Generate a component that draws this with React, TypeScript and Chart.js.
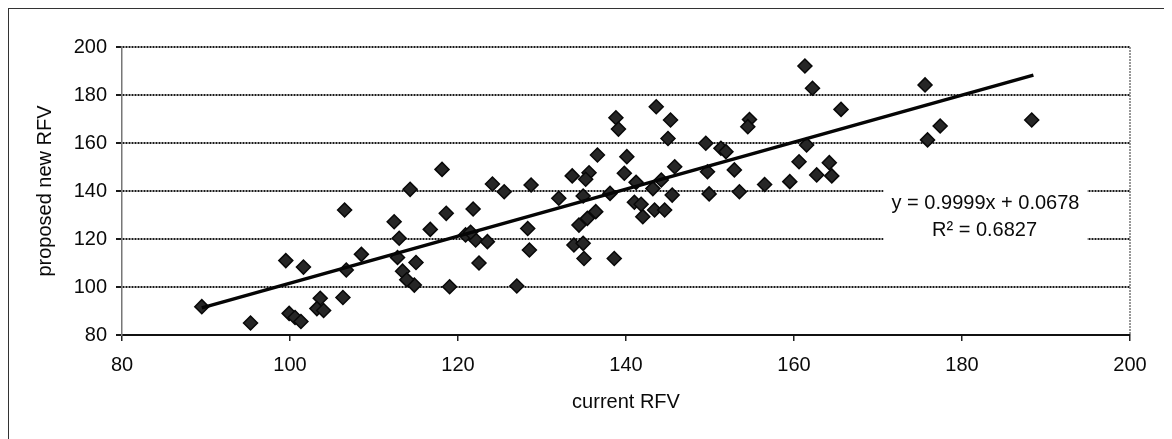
import React, { useEffect, useRef } from "react";
import { Chart, registerables } from "chart.js";

Chart.register(...registerables);

const currentRFV = [
  89.5, 95.3, 99.5, 101.6, 99.9, 100.6, 101.3, 103.6, 103.2, 104.0,
  106.3, 106.5, 106.7, 108.5, 112.4, 113.0, 112.8, 115.0, 113.4, 114.8,
  113.9, 114.3, 116.7, 118.1, 118.6, 119.0, 121.8, 120.9, 122.1, 123.5,
  121.5, 122.5, 124.1, 125.5, 127.0, 128.3, 128.5, 128.7, 132.0, 133.6,
  135.6, 135.2, 134.9, 134.4, 135.4, 136.4, 133.8, 134.9, 135.0, 136.6,
  138.8, 139.1, 138.1, 138.6, 139.8, 140.1, 141.2, 141.0, 142.0, 143.4,
  144.6, 141.8, 143.2, 144.2, 145.5, 143.6, 145.3, 145.0, 145.8, 149.5,
  149.7, 149.9, 151.3, 151.9, 152.9, 153.5, 154.7, 154.5, 156.5, 159.5,
  160.6, 161.3, 162.2, 161.5, 162.7, 164.2, 164.5, 165.6, 175.6, 175.9,
  177.4, 188.3
];

const proposedRFV = [
  91.8, 85.0, 111.0, 108.3, 89.0, 87.3, 85.6, 95.3, 91.0, 90.2,
  95.6, 132.1, 107.1, 113.6, 127.2, 120.3, 112.3, 110.2, 106.6, 100.8,
  103.0, 140.7, 124.0, 149.0, 130.7, 100.1, 132.5, 121.7, 119.6, 118.9,
  122.8, 110.0, 142.9, 139.7, 100.4, 124.4, 115.4, 142.5, 137.0, 146.3,
  147.6, 144.9, 137.9, 125.8, 128.6, 131.4, 117.5, 118.2, 111.9, 155.0,
  170.5, 165.8, 139.0, 111.9, 147.4, 154.3, 143.6, 135.3, 129.3, 132.1,
  132.1, 134.5, 141.0, 144.6, 138.3, 175.1, 169.6, 161.9, 150.1, 159.9,
  148.0, 138.8, 157.8, 156.4, 148.8, 139.7, 169.8, 166.8, 142.7, 143.9,
  152.2, 192.1, 182.8, 159.2, 146.7, 151.8, 146.3, 174.0, 184.2, 161.3,
  167.1, 169.6
];

const trendX = [89.5, 188.5];
const trendY = [91.3, 188.3];

const axisTicks = [80, 100, 120, 140, 160, 180, 200];
const equationText = "y = 0.9999x + 0.0678";
const r2Text = "R\u00B2 = 0.6827";
const labelAnchor = { x: 182.8, y: 135 };

const FONT = "'Liberation Sans', Arial, sans-serif";

const labelPlugin = {
  id: "trendLabel",
  beforeDatasetsDraw(chart: any) {
    const { ctx, chartArea, scales } = chart;
    const cx = scales.x.getPixelForValue(labelAnchor.x);
    const cy = scales.y.getPixelForValue(labelAnchor.y);
    ctx.save();
    ctx.strokeStyle = "#777";
    ctx.lineWidth = 1.5;
    ctx.setLineDash([2, 1]);
    ctx.beginPath();
    ctx.moveTo(chartArea.right, chartArea.top);
    ctx.lineTo(chartArea.right, chartArea.bottom);
    ctx.stroke();
    ctx.setLineDash([]);
    ctx.fillStyle = "#ffffff";
    ctx.fillRect(cx - 102, cy - 19, 204, 62);
    ctx.fillStyle = "#0a0a0a";
    ctx.font = `20px ${FONT}`;
    ctx.textAlign = "center";
    ctx.textBaseline = "middle";
    ctx.fillText(equationText, cx, cy);
    ctx.fillText(r2Text, cx - 1, cy + 27);
    ctx.restore();
  },
};

export default function App() {
  const ref = useRef<HTMLCanvasElement | null>(null);

  useEffect(() => {
    if (!ref.current) return;
    const points = currentRFV.map((x, i) => ({ x, y: proposedRFV[i] }));
    const trend = trendX.map((x, i) => ({ x, y: trendY[i] }));
    const chart = new Chart(ref.current, {
      type: "scatter",
      data: {
        datasets: [
          {
            type: "line",
            data: trend,
            borderColor: "#050505",
            borderWidth: 3.5,
            pointRadius: 0,
            showLine: true,
            fill: false,
            order: 0,
          } as any,
          {
            data: points,
            pointStyle: "rectRot",
            pointRadius: 7,
            backgroundColor: "#262626",
            borderColor: "#080808",
            borderWidth: 1.5,
            order: 1,
          },
        ],
      },
      options: {
        animation: false,
        responsive: false,
        events: [],
        layout: { padding: { left: 10, top: 38, right: 34, bottom: 0 } },
        plugins: {
          legend: { display: false },
          tooltip: { enabled: false },
        },
        scales: {
          x: {
            type: "linear",
            min: 80,
            max: 200,
            afterBuildTicks: (s: any) => {
              s.ticks = axisTicks.map((v) => ({ value: v }));
            },
            afterFit: (s: any) => {
              s.height = 104;
            },
            ticks: {
              color: "#0a0a0a",
              font: { size: 20, family: FONT },
              padding: 12,
              maxRotation: 0,
            },
            grid: {
              drawOnChartArea: false,
              drawTicks: true,
              tickLength: 6,
              color: "#222",
              lineWidth: 1.5,
            },
            border: { display: true, color: "#111", width: 2 },
            title: {
              display: true,
              text: "current RFV",
              color: "#0a0a0a",
              font: { size: 20, family: FONT },
              padding: { top: 0, bottom: 25 },
            },
          },
          y: {
            type: "linear",
            min: 80,
            max: 200,
            afterBuildTicks: (s: any) => {
              s.ticks = axisTicks.map((v) => ({ value: v }));
            },
            afterFit: (s: any) => {
              s.width = 103;
            },
            ticks: {
              color: "#0a0a0a",
              font: { size: 20, family: FONT },
              padding: 9,
            },
            grid: {
              color: "#1a1a1a",
              lineWidth: 2,
              drawTicks: true,
              tickLength: 6,
            },
            border: { display: true, color: "#777", width: 1.5, dash: [2, 1] },
            title: {
              display: true,
              text: "proposed new RFV",
              color: "#0a0a0a",
              font: { size: 20, family: FONT },
              padding: { top: 14, bottom: 0 },
            },
          },
        },
      },
      plugins: [labelPlugin],
    });
    return () => chart.destroy();
  }, []);

  return (
    <div
      style={{
        width: 1156,
        height: 431,
        boxSizing: "border-box",
        borderTop: "1px solid #333",
        borderLeft: "1px solid #333",
        background: "#fff",
      }}
    >
      <canvas ref={ref} width={1155} height={430} style={{ display: "block" }} />
    </div>
  );
}
